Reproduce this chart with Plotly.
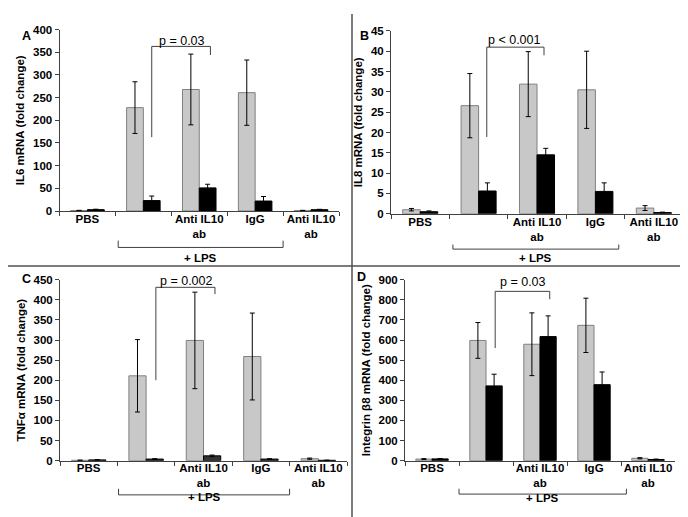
import plotly.graph_objects as go

W, H = 688, 517

categories = ["PBS", "LPS", "LPS_antiIL10", "LPS_IgG", "antiIL10"]
tick_labels = ["PBS", "", "Anti IL10<br>ab", "IgG", "Anti IL10<br>ab"]

# Panel A: IL6
il6_gray = [1, 228, 268, 261, 1]
il6_gray_err = [0.5, 57, 78, 72, 0.5]
il6_black = [3, 23, 51, 22, 3]
il6_black_err = [1, 10, 8, 10, 0.8]

# Panel B: IL8
il8_gray = [1.0, 26.6, 31.9, 30.5, 1.4]
il8_gray_err = [0.3, 7.9, 8.0, 9.5, 0.6]
il8_black = [0.5, 5.6, 14.5, 5.5, 0.3]
il8_black_err = [0.2, 2.0, 1.6, 2.1, 0.1]

# Panel C: TNFa
tnf_gray = [1, 211, 299, 259, 5]
tnf_gray_err = [0.5, 90, 120, 108, 1.5]
tnf_black = [2, 4, 12, 4, 1]
tnf_black_err = [0.5, 1, 2, 1, 0.3]

# Panel D: Integrin b8
itg_gray = [8, 598, 579, 673, 12]
itg_gray_err = [2, 89, 156, 135, 3]
itg_black = [9, 372, 617, 378, 6]
itg_black_err = [2, 58, 103, 63, 2]

panels = [
    dict(letter="A", title="IL6 mRNA (fold change)", gray=il6_gray, gerr=il6_gray_err,
         black=il6_black, berr=il6_black_err, black_color="#000000",
         yrange=[0, 400], dtick=50, xpx=[51.5, 331], ypx=[16, 201.7],
         p="p = 0.03", br=[1.15, 2.2, 163, 363, 344], ptxt=[1.7, 376],
         lps=[0.55, 3.5, 239, 232, 250], letter_pos=[12, 13]),
    dict(letter="B", title="IL8 mRNA (fold change)", gray=il8_gray, gerr=il8_gray_err,
         black=il8_black, berr=il8_black_err, black_color="#000000",
         yrange=[0, 45], dtick=5, xpx=[383, 675], ypx=[17.3, 204.5],
         p="p &lt; 0.001", br=[1.14, 2.12, 18.9, 41, 39], ptxt=[1.62, 42.8],
         lps=[0.56, 3.4, 240.7, 236, 250], letter_pos=[356, 13]),
    dict(letter="C", title="TNFα mRNA (fold change)", gray=tnf_gray, gerr=tnf_gray_err,
         black=tnf_black, berr=tnf_black_err, black_color="#333333",
         yrange=[0, 450], dtick=50, xpx=[52, 339], ypx=[272, 457.3],
         p="p = 0.002", br=[1.17, 2.2, 200, 431, 414], ptxt=[1.7, 446],
         lps=[0.52, 3.5, 492.3, 486, 503], letter_pos=[12, 271]),
    dict(letter="D", title="Integrin β8 mRNA (fold change)", gray=itg_gray, gerr=itg_gray_err,
         black=itg_black, berr=itg_black_err, black_color="#000000",
         yrange=[0, 900], dtick=100, xpx=[397, 667], ypx=[272, 457.3],
         p="p = 0.03", br=[1.17, 2.18, 560, 842, 803], ptxt=[1.68, 888],
         lps=[0.5, 3.6, 491.5, 486, 504], letter_pos=[353, 269]),
]

FONT = "Liberation Sans, Arial, sans-serif"
AXC = "#404040"

fig = go.Figure()
shapes = []
annotations = []
layout_axes = {}

for i, p in enumerate(panels):
    n = "" if i == 0 else str(i + 1)
    xa, ya = "x" + n, "y" + n
    fig.add_trace(go.Bar(
        x=categories, y=p["gray"], xaxis=xa, yaxis=ya,
        marker=dict(color="#c8c8c8", line=dict(color="#808080", width=1)),
        error_y=dict(type="data", array=p["gerr"], color="#000000", thickness=1, width=2.5),
        showlegend=False, hoverinfo="skip"))
    fig.add_trace(go.Bar(
        x=categories, y=p["black"], xaxis=xa, yaxis=ya,
        marker=dict(color=p["black_color"], line=dict(color="#000000", width=1)),
        error_y=dict(type="data", array=p["berr"], color="#000000", thickness=1, width=2.5),
        showlegend=False, hoverinfo="skip"))

    x0, x1 = p["xpx"]
    yt, yb = p["ypx"]
    layout_axes["xaxis" + n] = dict(
        domain=[x0 / W, x1 / W], anchor=ya, type="category",
        categoryorder="array", categoryarray=categories,
        tickmode="array", tickvals=categories, ticktext=tick_labels,
        tickson="boundaries", ticks="outside", ticklen=4, tickcolor=AXC, tickangle=0,
        ticklabelstandoff=-3,
        showline=True, linecolor=AXC, linewidth=1, showgrid=False,
        tickfont=dict(family=FONT, size=11.5, color="#000000", weight="bold"),
        range=[-0.5, 4.5], fixedrange=True)
    layout_axes["yaxis" + n] = dict(
        domain=[1 - yb / H, 1 - yt / H], anchor=xa, range=p["yrange"],
        dtick=p["dtick"], tick0=0, ticks="outside", ticklen=4, tickcolor=AXC,
        showline=True, linecolor=AXC, linewidth=1, showgrid=False, zeroline=False,
        tickfont=dict(family=FONT, size=11.5, color="#000000", weight="bold"),
        title=dict(text=p["title"], font=dict(family=FONT, size=11.5, color="#000000", weight="bold"),
                   standoff=5),
        fixedrange=True)

    # significance bracket
    bx0, bx1, by0, by1, by2 = p["br"]
    shapes.append(dict(type="path", xref=xa, yref=ya,
                       path=f"M {bx0} {by0} L {bx0} {by1} L {bx1} {by1} L {bx1} {by2}",
                       line=dict(color=AXC, width=1)))
    annotations.append(dict(x=p["ptxt"][0], y=p["ptxt"][1], xref=xa, yref=ya, text=p["p"],
                            showarrow=False, font=dict(family=FONT, size=12.5, color="#000000")))

    # + LPS bracket
    l0, l1, ly, lyt, ltxt = p["lps"]
    fx0, fx1 = (l0 + 0.5) / 5, (l1 + 0.5) / 5
    shapes.append(dict(type="path", xref=xa + " domain", yref="paper",
                       path=f"M {fx0} {1 - lyt / H} L {fx0} {1 - ly / H} L {fx1} {1 - ly / H} L {fx1} {1 - lyt / H}",
                       line=dict(color=AXC, width=1)))
    annotations.append(dict(x=(fx0 + fx1) / 2, y=1 - ltxt / H, xref=xa + " domain", yref="paper",
                            text="+ LPS", showarrow=False,
                            font=dict(family=FONT, size=11.5, color="#000000", weight="bold")))
    # panel letter
    annotations.append(dict(x=p["letter_pos"][0] / W, y=1 - p["letter_pos"][1] / H, xref="paper", yref="paper",
                            text=p["letter"], showarrow=False,
                            font=dict(family=FONT, size=12.5, color="#000000", weight="bold")))

# panel separators
shapes.append(dict(type="line", xref="paper", yref="paper", x0=344 / W, x1=344 / W, y0=0, y1=1,
                   line=dict(color="#505050", width=1.5)))
shapes.append(dict(type="line", xref="paper", yref="paper", x0=0, x1=1, y0=1 - 258 / H, y1=1 - 258 / H,
                   line=dict(color="#505050", width=1.5)))

fig.update_layout(
    width=W, height=H, margin=dict(l=0, r=0, t=0, b=0),
    paper_bgcolor="white", plot_bgcolor="white",
    barmode="group", bargap=0.4, bargroupgap=0,
    font=dict(family=FONT, size=11, color="#000000"),
    shapes=shapes, annotations=annotations, showlegend=False,
    **layout_axes)

fig.write_html("out.html")
